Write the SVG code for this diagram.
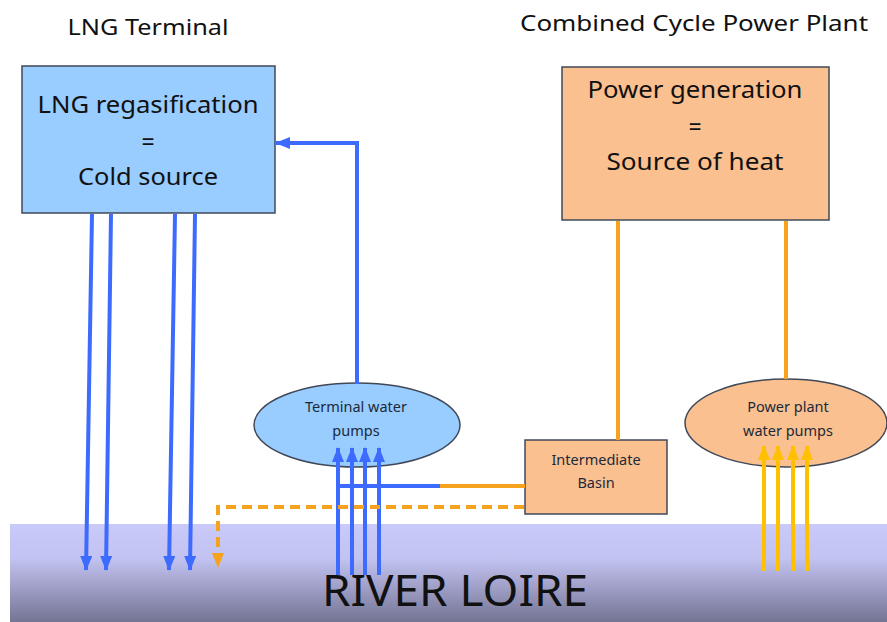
<svg xmlns="http://www.w3.org/2000/svg" width="887" height="622" viewBox="0 0 887 622">
<style>
text{font-family:"Noto Sans","Liberation Sans",sans-serif;fill:#111;text-anchor:middle}
.big{font-size:23px}
.sm{font-size:14.5px;fill:#1a2a3a}
.box{stroke:#404858;stroke-width:1.5}
.blue{stroke:#3D6BFF;stroke-width:4;fill:none}
.org{stroke:#F5A21E;stroke-width:4;fill:none}
.yel{stroke:#FFC000;stroke-width:4;fill:none}
</style>
<defs>
<linearGradient id="river" x1="0" y1="0" x2="0" y2="1">
<stop offset="0" stop-color="#C9C9FA"/>
<stop offset="0.35" stop-color="#C3C3F2"/>
<stop offset="1" stop-color="#747494"/>
</linearGradient>
<marker id="ab" markerUnits="userSpaceOnUse" markerWidth="16" markerHeight="14" refX="14" refY="6" orient="auto"><path d="M0,0 L15,6 L0,12 z" fill="#3D6BFF"/></marker>
<marker id="ao" markerUnits="userSpaceOnUse" markerWidth="16" markerHeight="14" refX="14" refY="6" orient="auto"><path d="M0,0 L15,6 L0,12 z" fill="#F5A21E"/></marker>
<marker id="ay" markerUnits="userSpaceOnUse" markerWidth="16" markerHeight="14" refX="14" refY="6" orient="auto"><path d="M0,0 L15,6 L0,12 z" fill="#FFC000"/></marker>
</defs>
<rect width="887" height="622" fill="#fff"/>
<rect id="river-loire" x="10" y="524" width="877" height="98" fill="url(#river)"/>
<text x="455" y="606" style="font-size:44px" textLength="266" lengthAdjust="spacingAndGlyphs">RIVER LOIRE</text>

<text x="148" y="35" style="font-size:22px" textLength="161" lengthAdjust="spacingAndGlyphs">LNG Terminal</text>
<text x="694" y="31" style="font-size:22px" textLength="348" lengthAdjust="spacingAndGlyphs">Combined Cycle Power Plant</text>

<g id="lng-box">
<rect class="box" x="22" y="66" width="253" height="147" fill="#99CCFF"/>
<text class="big" x="148" y="113" textLength="221" lengthAdjust="spacingAndGlyphs">LNG regasification</text>
<text class="big" x="148" y="150">=</text>
<text class="big" x="148" y="185" textLength="140" lengthAdjust="spacingAndGlyphs">Cold source</text>
</g>

<g id="power-box">
<rect class="box" x="562" y="67" width="267" height="153" fill="#FAC090"/>
<text class="big" x="695" y="98" textLength="215" lengthAdjust="spacingAndGlyphs">Power generation</text>
<text class="big" x="695" y="135">=</text>
<text class="big" x="695" y="170" textLength="177" lengthAdjust="spacingAndGlyphs">Source of heat</text>
</g>

<g id="terminal-pumps">
<ellipse class="box" cx="357" cy="425" rx="103" ry="42" fill="#99CCFF" stroke-width="1.2"/>
<text class="sm" x="356" y="412">Terminal water</text>
<text class="sm" x="356" y="436">pumps</text>
</g>

<g id="plant-pumps">
<ellipse class="box" cx="786" cy="423" rx="101" ry="44" fill="#FAC090" stroke-width="1.2"/>
<text class="sm" x="788" y="412">Power plant</text>
<text class="sm" x="788" y="436">water pumps</text>
</g>

<g id="basin">
<rect class="box" x="525" y="440" width="142" height="74" fill="#FAC090"/>
<text class="sm" x="596" y="465">Intermediate</text>
<text class="sm" x="596" y="488">Basin</text>
</g>

<g id="connectors">
<line class="blue" x1="92" y1="214" x2="86" y2="570" marker-end="url(#ab)"/>
<line class="blue" x1="111" y1="214" x2="106" y2="570" marker-end="url(#ab)"/>
<line class="blue" x1="175" y1="214" x2="169" y2="570" marker-end="url(#ab)"/>
<line class="blue" x1="195" y1="214" x2="190" y2="570" marker-end="url(#ab)"/>
<polyline class="blue" points="357,384 357,143 276,143" marker-end="url(#ab)"/>
<line class="blue" x1="338" y1="575" x2="338" y2="448" marker-end="url(#ab)"/>
<line class="blue" x1="352" y1="575" x2="352" y2="448" marker-end="url(#ab)"/>
<line class="blue" x1="365" y1="575" x2="365" y2="448" marker-end="url(#ab)"/>
<line class="blue" x1="379" y1="575" x2="379" y2="448" marker-end="url(#ab)"/>
<line class="blue" x1="337" y1="486" x2="440" y2="486"/>
<line class="org" x1="440" y1="486" x2="525" y2="486"/>
<polyline class="org" points="524,507 218,507 218,567" stroke-dasharray="10,6" marker-end="url(#ao)"/>
<line class="org" x1="618" y1="221" x2="618" y2="440"/>
<line class="org" x1="786" y1="221" x2="786" y2="379"/>
<line class="yel" x1="764" y1="571" x2="764" y2="446" marker-end="url(#ay)"/>
<line class="yel" x1="778" y1="571" x2="778" y2="446" marker-end="url(#ay)"/>
<line class="yel" x1="793" y1="571" x2="793" y2="446" marker-end="url(#ay)"/>
<line class="yel" x1="807" y1="571" x2="807" y2="446" marker-end="url(#ay)"/>
</g>
</svg>
